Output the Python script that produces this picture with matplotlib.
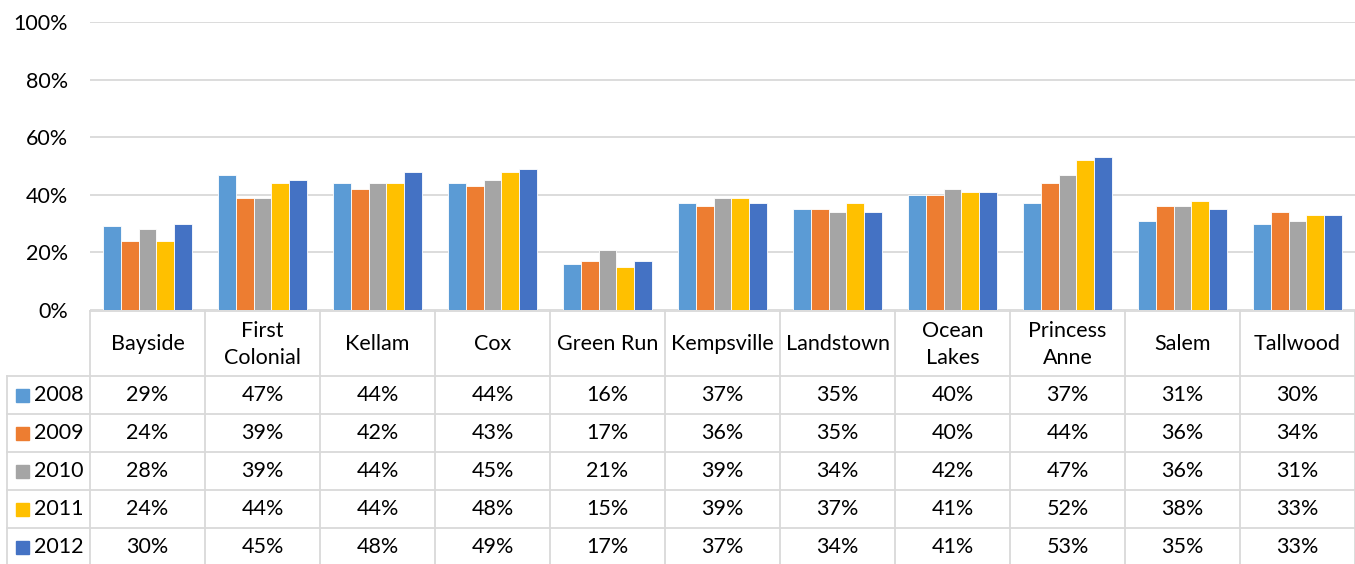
import matplotlib.pyplot as plt
from matplotlib.patches import Rectangle

schools = ["Bayside", "First\nColonial", "Kellam", "Cox", "Green Run", "Kempsville",
           "Landstown", "Ocean\nLakes", "Princess\nAnne", "Salem", "Tallwood"]
years = ["2008", "2009", "2010", "2011", "2012"]
v2008 = [29, 47, 44, 44, 16, 37, 35, 40, 37, 31, 30]
v2009 = [24, 39, 42, 43, 17, 36, 35, 40, 44, 36, 34]
v2010 = [28, 39, 44, 45, 21, 39, 34, 42, 47, 36, 31]
v2011 = [24, 44, 44, 48, 15, 39, 37, 41, 52, 38, 33]
v2012 = [30, 45, 48, 49, 17, 37, 34, 41, 53, 35, 33]
series = [v2008, v2009, v2010, v2011, v2012]
colors = ["#5B9BD5", "#ED7D31", "#A5A5A5", "#FFC000", "#4472C4"]

plt.rcParams['font.family'] = ['Lato', 'DejaVu Sans']
W, H = 1355, 564
fig = plt.figure(figsize=(W / 100, H / 100), dpi=100)
grid_c = "#D9D9D9"
fs = 15.5

# bar chart area (pixel layout of the reference)
left, right, top, zero = 90, 1355, 22, 310
ax = fig.add_axes([left / W, (H - zero) / H, (right - left) / W, (zero - top) / H])
n = len(schools)
bw = 0.155
for k, vals in enumerate(series):
    xs = [i + (k - 2) * bw for i in range(n)]
    ax.bar(xs, [v / 100 for v in vals], width=bw, color=colors[k],
           edgecolor="white", linewidth=0.6, zorder=3)
ax.set_xlim(-0.5, n - 0.5)
ax.set_ylim(0, 1)
ax.set_yticks([0, 0.2, 0.4, 0.6, 0.8, 1.0])
ax.set_yticklabels(["0%", "20%", "40%", "60%", "80%", "100%"], fontsize=fs)
ax.yaxis.grid(True, color=grid_c, linewidth=1.3, zorder=0)
ax.set_xticks([])
ax.tick_params(axis="y", length=0, pad=16)
for s in ax.spines.values():
    s.set_visible(False)

# data table below
tax = fig.add_axes([0, 0, 1, 1])
tax.set_xlim(0, W)
tax.set_ylim(H, 0)
tax.axis("off")
colw = (right - left) / n
tab_left = 7
head_top, head_bot, rowh = 311, 376, 38
lw = 1.3
# horizontal lines
tax.plot([left, right], [head_top, head_top], color=grid_c, lw=lw)
for r in range(len(years)):
    y = head_bot + r * rowh
    tax.plot([tab_left, right], [y, y], color=grid_c, lw=lw)
# vertical lines
tax.plot([tab_left, tab_left], [head_bot, H], color=grid_c, lw=lw)
for c in range(n + 1):
    x = left + c * colw
    tax.plot([x, x], [head_top, H], color=grid_c, lw=lw)
# headers
for c, name in enumerate(schools):
    tax.text(left + (c + 0.5) * colw, (head_top + head_bot) / 2 + 1, name,
             ha="center", va="center", fontsize=fs, linespacing=1.45)
# rows
for r, (yr, vals) in enumerate(zip(years, series)):
    yc = head_bot + (r + 0.5) * rowh
    tax.add_patch(Rectangle((16, yc - 6.5), 13, 13, color=colors[r]))
    tax.text(34, yc, yr, ha="left", va="center", fontsize=fs)
    for c, v in enumerate(vals):
        tax.text(left + (c + 0.5) * colw, yc, f"{v}%", ha="center", va="center", fontsize=fs)

fig.savefig("out.png", dpi=100)
